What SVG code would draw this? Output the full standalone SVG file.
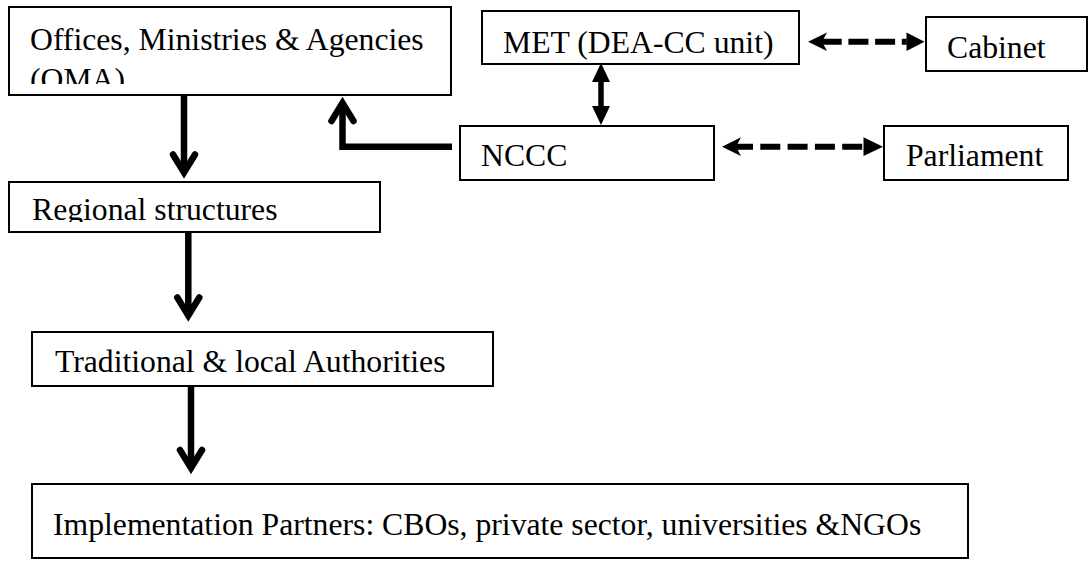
<svg xmlns="http://www.w3.org/2000/svg" width="1089" height="561" viewBox="0 0 1089 561">
<style>
.box{fill:#fff;stroke:#000;stroke-width:2}
.t{font-family:"Liberation Serif","Times New Roman",serif;font-size:31.7px;fill:#000}
.shaft{stroke:#000;stroke-width:6.5;fill:none;stroke-linejoin:miter}
.vhead{stroke:#000;stroke-width:6.5;fill:none;stroke-linecap:round;stroke-linejoin:miter;stroke-miterlimit:10}
.thin{stroke:#000;stroke-width:5.5;fill:none}
.dash{stroke:#000;stroke-width:6;fill:none}
.head{fill:#000;stroke:none}
</style>
<defs>
<clipPath id="clipOMA"><rect x="10" y="8" width="440" height="76"/></clipPath>
<clipPath id="clipReg"><rect x="10" y="183" width="369" height="39"/></clipPath>
</defs>
<rect width="1089" height="561" fill="#fff"/>
<g id="oma">
<rect class="box" x="9" y="7" width="442" height="88"/>
<g clip-path="url(#clipOMA)">
<text class="t" x="30" y="50">Offices, Ministries &amp; Agencies</text>
<text class="t" x="30" y="90">(OMA)</text>
</g>
</g>
<g id="regional">
<rect class="box" x="9" y="182" width="371" height="50"/>
<g clip-path="url(#clipReg)">
<text class="t" x="32" y="219.5">Regional structures</text>
</g>
</g>
<g id="traditional">
<rect class="box" x="32" y="332" width="461" height="54"/>
<text class="t" x="55" y="371.5">Traditional &amp; local Authorities</text>
</g>
<g id="implementation">
<rect class="box" x="32" y="484" width="936" height="74"/>
<text class="t" x="53" y="535">Implementation Partners: CBOs, private sector, universities &amp;NGOs</text>
</g>
<g id="met">
<rect class="box" x="482" y="11" width="317" height="53"/>
<text class="t" x="503" y="53">MET (DEA-CC unit)</text>
</g>
<g id="cabinet">
<rect class="box" x="926" y="17" width="161" height="54"/>
<text class="t" x="947" y="58">Cabinet</text>
</g>
<g id="nccc">
<rect class="box" x="460" y="126" width="254" height="54"/>
<text class="t" x="481" y="166">NCCC</text>
</g>
<g id="parliament">
<rect class="box" x="884" y="126" width="184" height="54"/>
<text class="t" x="906" y="166">Parliament</text>
</g>
<g id="connectors">
<!-- OMA -> Regional -->
<path class="shaft" d="M184,95 V172.5"/>
<path class="vhead" d="M173,154.5 L184,172.5 L195,154.5"/>
<!-- NCCC -> OMA -->
<path class="shaft" d="M452,146.7 H342.5 V103"/>
<path class="vhead" d="M331.5,121 L342.5,103 L353.5,121"/>
<!-- Regional -> Traditional -->
<path class="shaft" d="M188.3,232 V315.5"/>
<path class="vhead" d="M177.3,297.5 L188.3,315.5 L199.3,297.5"/>
<!-- Traditional -> Implementation -->
<path class="shaft" d="M191,386 V468"/>
<path class="vhead" d="M180,450 L191,468 L202,450"/>
<!-- MET <-> NCCC -->
<path class="thin" d="M601,80 V108"/>
<path class="head" d="M601,63 L592,82 L610,82 Z"/>
<path class="head" d="M601,125 L592,106 L610,106 Z"/>
<!-- MET <-> Cabinet (dashed) -->
<path class="dash" d="M821.7,41.7 H906.7" stroke-dasharray="20 6.7"/>
<path class="head" d="M808,41.7 L827,32.5 L822,41.7 L827,51 Z"/>
<path class="head" d="M924.5,41.7 L906.5,32.5 L906.5,51 Z"/>
<!-- NCCC <-> Parliament (dashed) -->
<path class="dash" d="M733,146.7 H863.5" stroke-dasharray="20 7.3"/>
<path class="head" d="M722,146.7 L741,137.3 L736,146.7 L741,156.1 Z"/>
<path class="head" d="M883,146.7 L863.5,137.3 L863.5,156.1 Z"/>
</g>
</svg>
